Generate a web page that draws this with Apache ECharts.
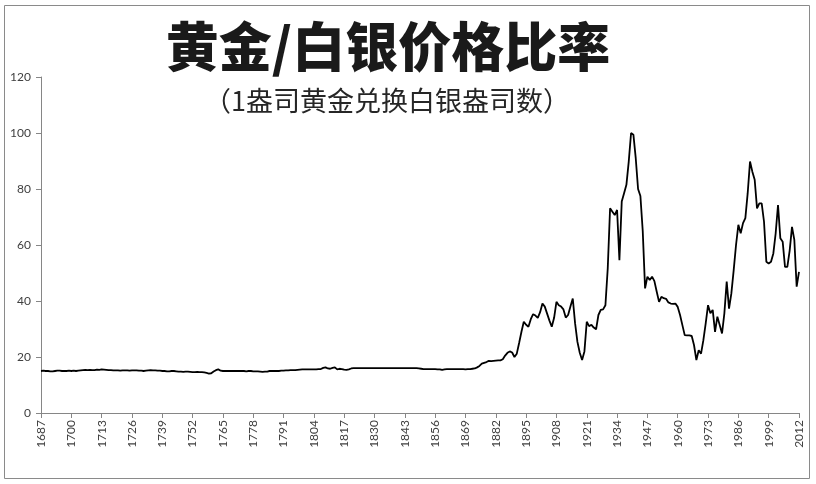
<!DOCTYPE html>
<html>
<head>
<meta charset="utf-8">
<script src="https://cdn.jsdelivr.net/npm/echarts@6/dist/echarts.min.js"></script>
<style>
html,body{margin:0;padding:0;background:#fff;}
#chart{width:816px;height:484px;}
</style>
</head>
<body>
<div id="chart"></div>
<script>
// ---- text ----
const titleText = '黄金/白银价格比率';
const subtitleText = '（1盎司黄金兑换白银盎司数）';

// ---- categories ----
const startYear = 1687;
const endYear = 2012;
const labelEvery = 13; // 1687, 1700, 1713 ... 2012
const yMin = 0, yMax = 120, yStep = 20;

// ---- series values (gold/silver ratio, one per year) ----
const ratio1687to1699 = [15.0,15.1,15.0,15.0,14.9,14.9,15.0,15.1,15.1,15.0,15.0,15.0,15.1];
const ratio1700to1749 = [
  15.0,15.1,15.0,15.1,15.2,15.3,15.4,15.3,15.4,15.3,
  15.3,15.5,15.4,15.6,15.5,15.4,15.3,15.3,15.2,15.2,
  15.2,15.1,15.2,15.2,15.2,15.1,15.2,15.2,15.2,15.1,
  15.1,15.0,15.1,15.2,15.3,15.2,15.2,15.1,15.1,15.0,
  15.0,14.9,14.9,15.0,15.0,14.9,14.8,14.8,14.7,14.8
];
const ratio1750to1849 = [
  14.8,14.7,14.6,14.6,14.7,14.6,14.6,14.5,14.3,14.1,
  14.2,14.8,15.3,15.6,15.1,15.0,15.0,15.0,15.0,15.0,
  15.0,15.0,15.0,15.0,15.0,14.9,15.0,15.0,14.9,14.9,
  14.9,14.8,14.7,14.8,14.8,15.0,15.0,15.0,15.0,15.0,
  15.1,15.1,15.2,15.2,15.3,15.3,15.3,15.4,15.5,15.6,
  15.6,15.6,15.6,15.6,15.6,15.6,15.7,15.7,16.1,16.3,
  15.9,15.8,16.1,16.3,15.6,15.8,15.7,15.5,15.4,15.6,
  15.9,16.0,16.0,16.0,16.0,16.0,16.0,16.0,16.0,16.0,
  16.0,16.0,16.0,16.0,16.0,16.0,16.0,16.0,16.0,16.0,
  16.0,16.0,16.0,16.0,16.0,16.0,16.0,16.0,16.0,15.9
];
const ratio1850to1929 = [
  15.8,15.7,15.7,15.7,15.7,15.7,15.7,15.6,15.6,15.4,
  15.6,15.7,15.7,15.7,15.7,15.7,15.7,15.7,15.7,15.6,
  15.7,15.7,15.8,15.9,16.3,16.8,17.6,17.9,18.2,18.6,
  18.5,18.6,18.7,18.8,18.8,19.2,20.5,21.5,22.0,21.6,
  20.0,21.2,25.0,29.0,32.6,31.5,30.8,33.5,35.3,34.8,
  34.0,36.0,39.1,38.0,35.5,33.0,30.8,34.0,39.7,38.5,
  38.0,37.0,34.1,35.0,38.0,40.9,32.0,25.4,21.5,18.9,
  22.0,32.6,31.0,31.5,30.5,29.9,35.0,36.8,37.0,38.5
];
const ratio1930to2012 = [
  51.7,73.1,71.9,70.7,72.5,54.6,75.5,78.5,81.5,89.8,
  100.0,99.4,91.0,80.0,77.5,65.0,44.5,48.7,47.5,48.7,
  47.1,43.3,39.7,41.5,41.0,40.8,39.5,39.1,39.0,39.1,
  37.9,35.0,31.4,27.8,27.7,27.7,27.5,24.2,18.9,22.4,
  21.2,26.0,32.0,38.5,35.6,36.8,29.0,34.4,31.4,28.4,
  35.6,46.9,37.3,42.7,51.0,60.0,67.2,64.2,67.8,69.6,
  78.5,89.8,86.2,83.3,73.1,74.9,74.9,68.3,54.0,53.4,
  54.0,57.0,64.2,74.3,62.4,61.2,52.2,52.2,58.0,66.5,
  61.8,45.1,50.4
];

const years = [];
for (let y = startYear; y <= endYear; y++) years.push(String(y));
const ratios = [].concat(ratio1687to1699, ratio1700to1749, ratio1750to1849, ratio1850to1929, ratio1930to2012);

const chart = echarts.init(document.getElementById('chart'), null, {renderer: 'canvas'});
const axisGrey = '#868686';
const labelFont = 'Lato, "Liberation Sans", sans-serif';

chart.setOption({
  animation: false,
  backgroundColor: '#ffffff',
  grid: {left: 41, right: 17, top: 77, bottom: 71, containLabel: false},
  graphic: [
    {type: 'rect', shape: {x: 4.5, y: 5.5, width: 805, height: 473},
     style: {fill: 'none', stroke: '#8a8a8a', lineWidth: 1}, silent: true},
    {type: 'text', x: 388, y: 47,
     style: {text: titleText, fontSize: 53, fontWeight: 900,
             fontFamily: '"Noto Sans CJK SC", sans-serif', fill: '#1a1a1a',
             align: 'center', verticalAlign: 'middle', textAlign: 'center', textVerticalAlign: 'middle'}},
    {type: 'text', x: 387, y: 101,
     style: {text: subtitleText, fontSize: 27, fontWeight: 400,
             fontFamily: '"Noto Sans CJK SC", sans-serif', fill: '#262626',
             align: 'center', verticalAlign: 'middle', textAlign: 'center', textVerticalAlign: 'middle'}}
  ],
  xAxis: {
    type: 'category',
    data: years,
    boundaryGap: false,
    axisLine: {show: true, lineStyle: {color: axisGrey, width: 1}},
    axisTick: {show: true, interval: labelEvery - 1, length: 5, lineStyle: {color: axisGrey}},
    axisLabel: {interval: labelEvery - 1, rotate: 90, fontSize: 12, color: '#404040',
                fontFamily: labelFont, margin: 7},
    splitLine: {show: false}
  },
  yAxis: {
    type: 'value',
    min: yMin, max: yMax, interval: yStep,
    axisLine: {show: true, lineStyle: {color: axisGrey, width: 1}},
    axisTick: {show: true, length: 5, lineStyle: {color: axisGrey}},
    axisLabel: {fontSize: 12, color: '#404040', fontFamily: labelFont, margin: 10},
    splitLine: {show: false}
  },
  series: [{
    type: 'line',
    data: ratios,
    showSymbol: false,
    symbol: 'none',
    lineStyle: {color: '#000000', width: 1.8},
    itemStyle: {color: '#000000'}
  }]
});
</script>
</body>
</html>
